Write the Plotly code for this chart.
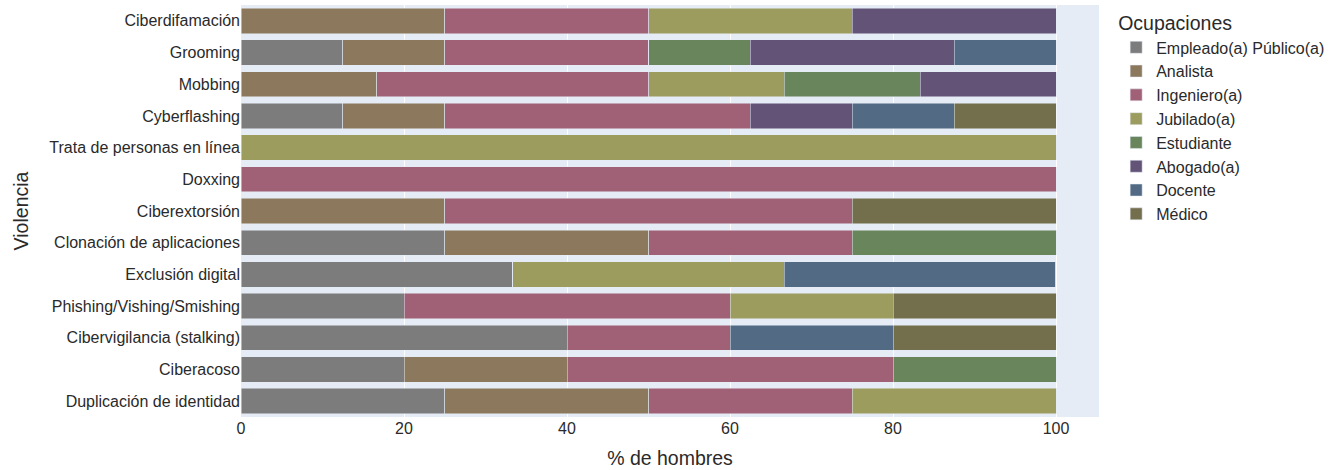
import plotly.graph_objects as go

violencias = [
    "Duplicación de identidad", "Ciberacoso", "Cibervigilancia (stalking)",
    "Phishing/Vishing/Smishing", "Exclusión digital", "Clonación de aplicaciones",
    "Ciberextorsión", "Doxxing", "Trata de personas en línea", "Cyberflashing",
    "Mobbing", "Grooming", "Ciberdifamación",
]

ocupaciones = ["Empleado(a) Público(a)", "Analista", "Ingeniero(a)", "Jubilado(a)",
               "Estudiante", "Abogado(a)", "Docente", "Médico"]

# values per occupation, aligned with violencias (bottom -> top)
empleado   = [25, 20, 40, 20, 33.33, 25, 0, 0, 0, 12.5, 0, 12.5, 0]
analista   = [25, 20, 0, 0, 0, 25, 25, 0, 0, 12.5, 16.67, 12.5, 25]
ingeniero  = [25, 40, 20, 40, 0, 25, 50, 100, 0, 37.5, 33.33, 25, 25]
jubilado   = [25, 0, 0, 20, 33.33, 0, 0, 0, 100, 0, 16.67, 0, 25]
estudiante = [0, 20, 0, 0, 0, 25, 0, 0, 0, 0, 16.67, 12.5, 0]
abogado    = [0, 0, 0, 0, 0, 0, 0, 0, 0, 12.5, 16.67, 25, 25]
docente    = [0, 0, 20, 0, 33.33, 0, 0, 0, 0, 12.5, 0, 12.5, 0]
medico     = [0, 0, 20, 20, 0, 0, 25, 0, 0, 12.5, 0, 0, 0]

series = [empleado, analista, ingeniero, jubilado, estudiante, abogado, docente, medico]

colores = ["rgb(124,124,124)", "rgb(140,120,93)", "rgb(160,97,119)", "rgb(156,156,94)",
           "rgb(104,133,92)", "rgb(98,83,119)", "rgb(82,106,131)", "rgb(115,111,76)"]

fig = go.Figure()
for nombre, vals, col in zip(ocupaciones, series, colores):
    fig.add_trace(go.Bar(
        y=violencias, x=vals, name=nombre, orientation="h",
        marker=dict(color=col, line=dict(color="rgb(229,236,246)", width=0.5)),
    ))

fig.update_layout(
    template="plotly",
    barmode="stack",
    width=1332, height=470,
    margin=dict(l=241, r=233, t=5, b=53, autoexpand=False),
    font=dict(family="Liberation Sans, Arial, sans-serif", size=16, color="#2a2a2a"),
    legend=dict(title=dict(text="Ocupaciones", font=dict(size=19.5)), font=dict(size=16),
                traceorder="normal", tracegroupgap=0, x=1.02, y=1,
                xanchor="left", yanchor="top"),
    xaxis=dict(title=dict(text="% de hombres", font=dict(size=19.5)), tickfont=dict(size=16),
               zeroline=False, automargin=False),
    yaxis=dict(title=dict(text="Violencia", font=dict(size=19.5)), tickfont=dict(size=16),
               categoryorder="array", categoryarray=violencias, automargin=False),
)

fig.write_html("out.html",
               config={"displayModeBar": False},
               post_script="document.body.style.margin='0';document.body.style.overflow='hidden';")
